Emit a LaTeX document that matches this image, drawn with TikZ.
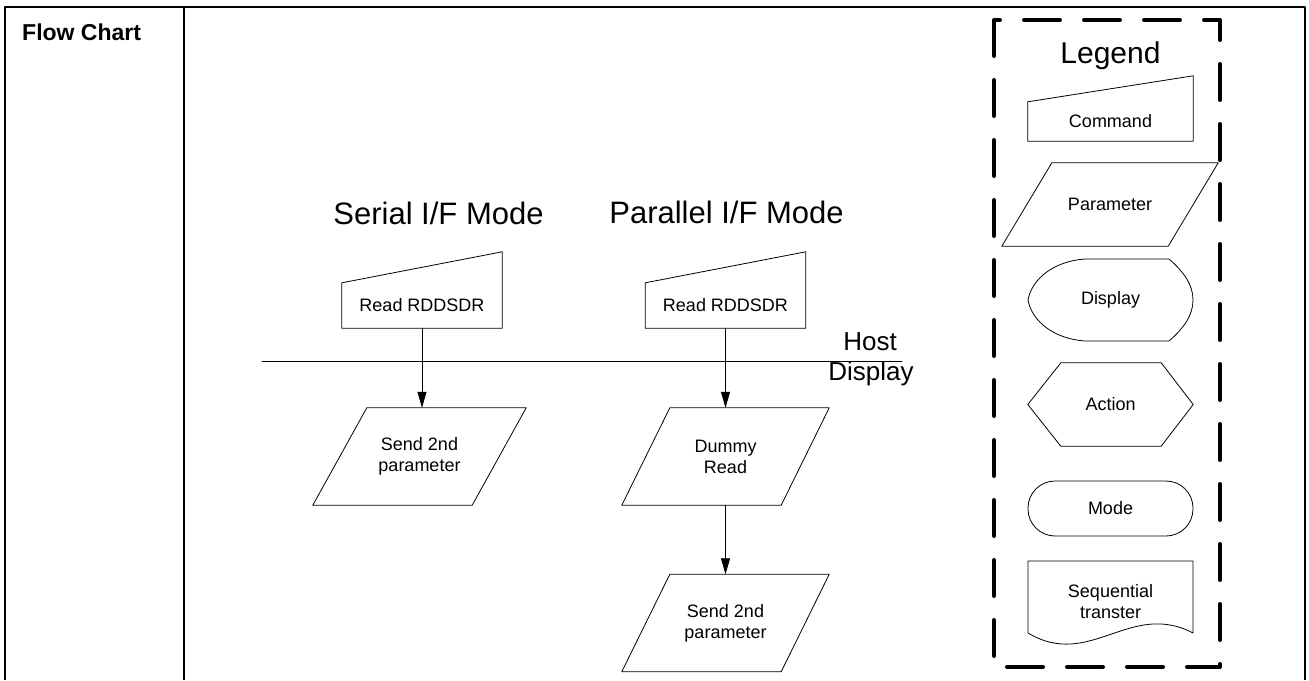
\documentclass[tikz,border=0pt]{standalone}
\usepackage{fontspec}
\setmainfont{Liberation Sans}
\usetikzlibrary{arrows.meta}

\begin{document}
\begin{tikzpicture}[
	x=1pt, y=-1pt,
	line cap=round,
	line join=round,
	every node/.style={inner sep=0pt, font=\fontsize{18}{21}\selectfont, align=center},
	frame/.style={line width=2.2pt, line cap=butt},
	outline/.style={draw, line width=0.8pt},
	cmdbox/.style={minimum width=160pt, minimum height=45pt},
	parbox/.style={minimum width=159pt, minimum height=97pt},
	flow/.style={line width=0.8pt, -{Triangle[length=16pt,width=9pt]}},
	modetitle/.style={font=\fontsize{31}{36}\selectfont, anchor=base},
	sidelabel/.style={font=\fontsize{26}{30}\selectfont, anchor=base},
	headlabel/.style={font=\fontsize{23}{27}\selectfont\bfseries, anchor=base west},
	legendline/.style={line width=4pt, dash pattern=on 36pt off 24pt}
	]
	
	\useasboundingbox (0,0) rectangle (1309,680);
	
	% Table frame
	\draw[frame] (5,680) -- (5,7) -- (1305,7) -- (1305,680);
	\draw[frame] (184,7) -- (184,680);
	\node[headlabel] (head) at (22,40) {Flow Chart};
	
	% Serial mode
	\node[modetitle] (stitle) at (438.5,224) {Serial I/F Mode};
	\node[cmdbox] (sread) at (422,305.5) {Read RDDSDR};
	\draw[outline] (sread.south west) -- (sread.south east) -- ([yshift=31pt]sread.north east) -- (sread.north west) -- cycle;
	\node[parbox] (ssend) at (419.5,456.5) {Send 2nd\\parameter};
	\draw[outline] ([xshift=-27pt]ssend.south west) -- ([xshift=-27pt]ssend.south east)
		-- ([xshift=27pt]ssend.north east) -- ([xshift=27pt]ssend.north west) -- cycle;
	
	% Parallel mode
	\node[modetitle] (ptitle) at (726.5,223) {Parallel I/F Mode};
	\node[cmdbox] (pread) at (725.5,305.5) {Read RDDSDR};
	\draw[outline] (pread.south west) -- (pread.south east) -- ([yshift=31pt]pread.north east) -- (pread.north west) -- cycle;
	\node[parbox] (dummy) at (725.5,456.5) {Dummy\\Read};
	\draw[outline] ([xshift=-24pt]dummy.south west) -- ([xshift=-24pt]dummy.south east)
		-- ([xshift=24pt]dummy.north east) -- ([xshift=24pt]dummy.north west) -- cycle;
	\node[parbox] (psend) at (725.5,623) {Send 2nd\\parameter};
	\draw[outline] ([xshift=-24pt]psend.south west) -- ([xshift=-24pt]psend.south east)
		-- ([xshift=24pt]psend.north east) -- ([xshift=24pt]psend.north west) -- cycle;
	
	% Host / display border
	\coordinate (hleft) at (262,361);
	\coordinate (hright) at (902,361);
	\draw[line width=0.8pt] (hleft) -- (hright);
	\node[sidelabel] (host) at (870,350) {Host};
	\node[sidelabel] (disp) at (871,380) {Display};
	
	\draw[flow] (sread.south) -- (sread.south |- ssend.north);
	\draw[flow] (pread.south) -- (pread.south |- dummy.north);
	\draw[flow] (dummy.south) -- (psend.north);
	
	% Legend
	\draw[legendline] (994,20) rectangle (1220,667);
	\node[font=\fontsize{30}{36}\selectfont, anchor=base] (legtitle) at (1110.5,63) {Legend};
	
	\node[minimum width=165pt, minimum height=39pt] (lcmd) at (1110.5,121.5) {Command};
	\draw[outline] (lcmd.south west) -- (lcmd.south east) -- ([yshift=26pt]lcmd.north east) -- (lcmd.north west) -- cycle;
	
	\node[minimum width=166pt, minimum height=83pt] (lpar) at (1110,204.5) {Parameter};
	\draw[outline] ([xshift=-25pt]lpar.south west) -- ([xshift=-25pt]lpar.south east)
		-- ([xshift=25pt]lpar.north east) -- ([xshift=25pt]lpar.north west) -- cycle;
	
	\node (ldisp) at (1110.5,300) {Display};
	\draw[outline] (1028,300) .. controls (1032,278) and (1055,261) .. (1085,259) -- (1169,259)
		.. controls (1184,272) and (1193,285) .. (1193,300)
		.. controls (1193,315) and (1184,328) .. (1169,341) -- (1085,341)
		.. controls (1055,339) and (1032,322) .. (1028,300) -- cycle;
	
	\node[minimum width=165pt, minimum height=83pt] (lact) at (1110.5,404.5) {Action};
	\draw[outline] (lact.west) -- ([xshift=33pt]lact.north west) -- ([xshift=-32pt]lact.north east) -- (lact.east)
		-- ([xshift=-32pt]lact.south east) -- ([xshift=33pt]lact.south west) -- cycle;
	
	\node[draw, line width=0.8pt, rounded corners=27pt, minimum width=165pt, minimum height=55pt] (lmode) at (1110.5,508.5) {Mode};
	
	\node (lseq) at (1110.5,602) {Sequential\\transter};
	\draw[outline] (1193,633) -- (1193,561) -- (1028,561) -- (1028,633)
		.. controls (1090,670) and (1130,600) .. (1193,633);
	
\end{tikzpicture}
\end{document}
